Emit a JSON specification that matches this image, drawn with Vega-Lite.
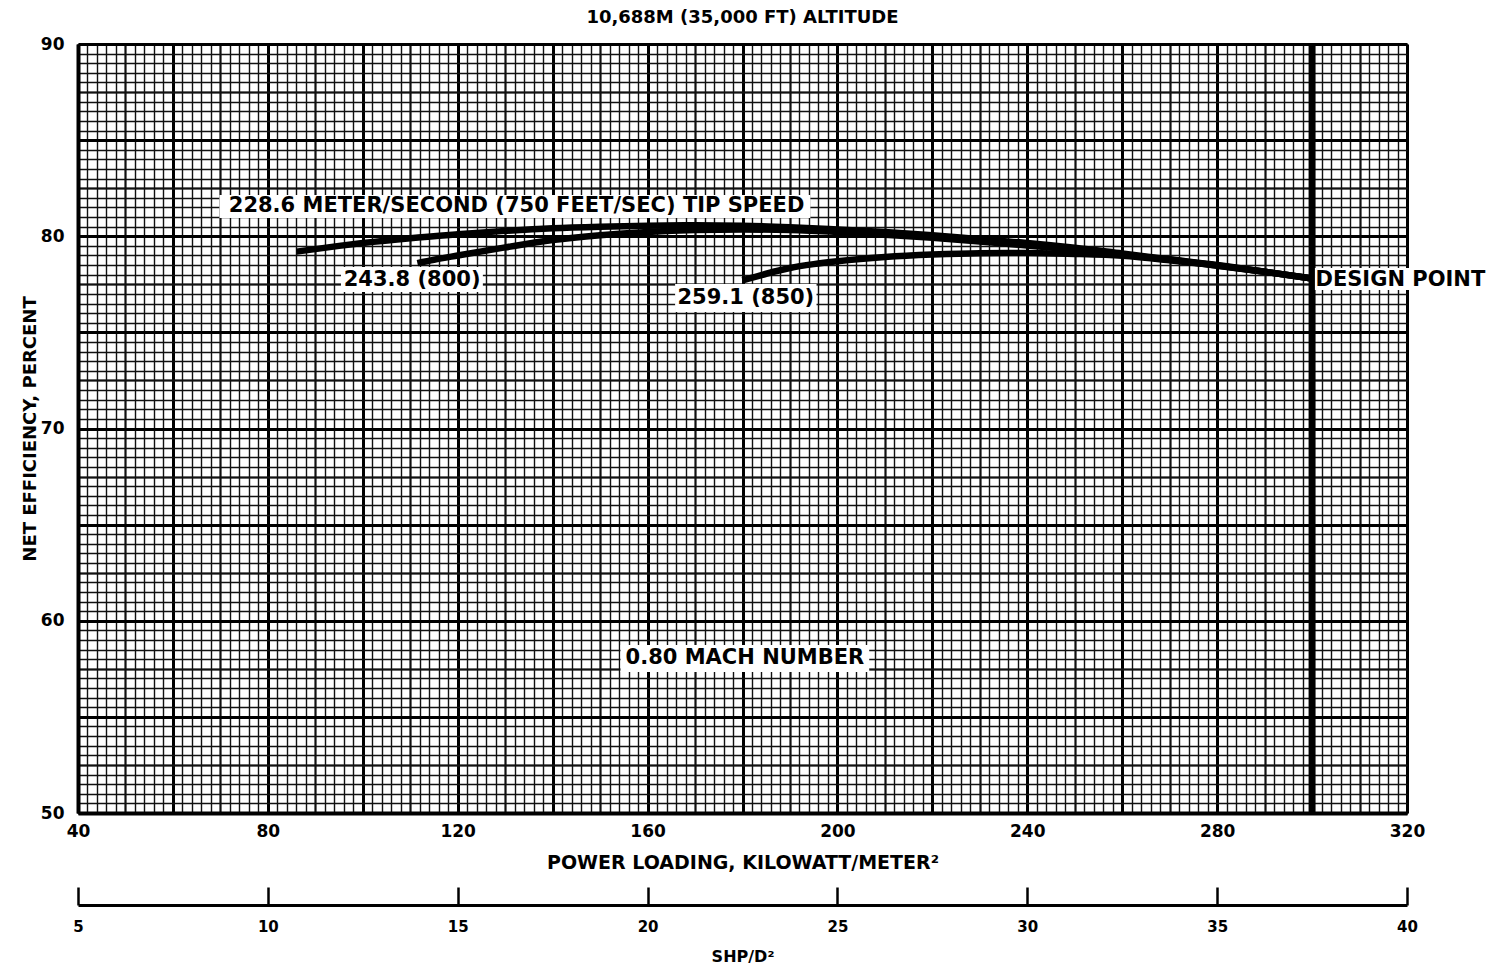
{
  "$schema": "https://vega.github.io/schema/vega-lite/v6.json",
  "width": 1329,
  "height": 769,
  "autosize": {"type": "none"},
  "padding": {"left": 78, "top": 44, "right": 92, "bottom": 158},
  "background": "white",
  "config": {
    "font": "DejaVu Sans",
    "view": {"stroke": null},
    "axis": {"labelFlush": false, "labelOverlap": false, "labelColor": "black", "titleColor": "black", "domainColor": "black", "tickColor": "black", "gridColor": "#111111", "gridOpacity": 1}
  },
  "title": {"text": "10,688M (35,000 FT) ALTITUDE", "fontSize": 18, "fontWeight": "bold", "font": "DejaVu Sans", "color": "black", "anchor": "middle", "frame": "group", "offset": 8},
  "datasets": {
    "curves": [
      {"series": "750", "kw": 86, "eff": 79.2},
      {"series": "750", "kw": 95, "eff": 79.5},
      {"series": "750", "kw": 100, "eff": 79.65},
      {"series": "750", "kw": 110, "eff": 79.9},
      {"series": "750", "kw": 120, "eff": 80.1},
      {"series": "750", "kw": 130, "eff": 80.28},
      {"series": "750", "kw": 140, "eff": 80.42},
      {"series": "750", "kw": 150, "eff": 80.5},
      {"series": "750", "kw": 160, "eff": 80.55},
      {"series": "750", "kw": 170, "eff": 80.57},
      {"series": "750", "kw": 180, "eff": 80.55},
      {"series": "750", "kw": 190, "eff": 80.47},
      {"series": "750", "kw": 200, "eff": 80.35},
      {"series": "750", "kw": 210, "eff": 80.22},
      {"series": "750", "kw": 220, "eff": 80.05},
      {"series": "750", "kw": 230, "eff": 79.85},
      {"series": "750", "kw": 240, "eff": 79.65},
      {"series": "750", "kw": 250, "eff": 79.4},
      {"series": "750", "kw": 260, "eff": 79.1},
      {"series": "750", "kw": 270, "eff": 78.8},
      {"series": "750", "kw": 280, "eff": 78.5},
      {"series": "750", "kw": 290, "eff": 78.15},
      {"series": "750", "kw": 300, "eff": 77.8},
      {"series": "800", "kw": 111.5, "eff": 78.6},
      {"series": "800", "kw": 115, "eff": 78.78},
      {"series": "800", "kw": 120, "eff": 79.0},
      {"series": "800", "kw": 130, "eff": 79.42},
      {"series": "800", "kw": 140, "eff": 79.8},
      {"series": "800", "kw": 150, "eff": 80.05},
      {"series": "800", "kw": 160, "eff": 80.22},
      {"series": "800", "kw": 170, "eff": 80.32},
      {"series": "800", "kw": 180, "eff": 80.35},
      {"series": "800", "kw": 190, "eff": 80.32},
      {"series": "800", "kw": 200, "eff": 80.22},
      {"series": "800", "kw": 210, "eff": 80.08},
      {"series": "800", "kw": 220, "eff": 79.92},
      {"series": "800", "kw": 230, "eff": 79.73},
      {"series": "800", "kw": 240, "eff": 79.52},
      {"series": "800", "kw": 250, "eff": 79.3},
      {"series": "800", "kw": 260, "eff": 79.05},
      {"series": "800", "kw": 270, "eff": 78.78},
      {"series": "800", "kw": 280, "eff": 78.48},
      {"series": "800", "kw": 290, "eff": 78.15},
      {"series": "800", "kw": 300, "eff": 77.8},
      {"series": "850", "kw": 180, "eff": 77.7},
      {"series": "850", "kw": 185, "eff": 78.05},
      {"series": "850", "kw": 190, "eff": 78.35},
      {"series": "850", "kw": 195, "eff": 78.55},
      {"series": "850", "kw": 200, "eff": 78.7},
      {"series": "850", "kw": 210, "eff": 78.92},
      {"series": "850", "kw": 220, "eff": 79.05},
      {"series": "850", "kw": 230, "eff": 79.12},
      {"series": "850", "kw": 240, "eff": 79.13},
      {"series": "850", "kw": 250, "eff": 79.08},
      {"series": "850", "kw": 260, "eff": 78.98},
      {"series": "850", "kw": 270, "eff": 78.75},
      {"series": "850", "kw": 280, "eff": 78.47},
      {"series": "850", "kw": 290, "eff": 78.15},
      {"series": "850", "kw": 300, "eff": 77.8}
    ],
    "labels": [
      {"label": "228.6 METER/SECOND (750 FEET/SEC) TIP SPEED", "x": 132.4, "y": 81.55, "x0": 69.8, "x1": 194.3, "y0": 80.95, "y1": 82.15},
      {"label": "243.8 (800)", "x": 110.4, "y": 77.72, "x0": 95.4, "x1": 125.3, "y0": 77.1, "y1": 78.4},
      {"label": "259.1 (850)", "x": 180.7, "y": 76.78, "x0": 165.8, "x1": 195.6, "y0": 76.06, "y1": 77.52},
      {"label": "DESIGN POINT", "x": 318.6, "y": 77.72, "x0": 300.6, "x1": 322, "y0": 77.2, "y1": 78.35},
      {"label": "0.80 MACH NUMBER", "x": 180.5, "y": 58.05, "x0": 154.3, "x1": 206.7, "y0": 57.33, "y1": 58.74}
    ],
    "design": [{"kw": 300}],
    "shp": [{"shp": 5}, {"shp": 40}]
  },
  "resolve": {"scale": {"x": "independent"}, "axis": {"x": "independent", "y": "independent"}},
  "layer": [
    {
      "data": {"name": "design"},
      "mark": {"type": "point", "opacity": 0},
      "encoding": {
        "x": {"field": "kw", "type": "quantitative", "scale": {"domain": [40, 320], "nice": false, "zero": false},
              "axis": {"orient": "bottom", "tickCount": 140, "grid": true, "gridWidth": 1.4, "labels": false, "ticks": false, "domain": false, "title": null}},
        "y": {"datum": 60, "type": "quantitative", "scale": {"domain": [50, 90], "nice": false, "zero": false},
              "axis": {"orient": "left", "tickCount": 80, "grid": true, "gridWidth": 1.4, "labels": false, "ticks": false, "domain": false, "title": null}}
      }
    },
    {
      "data": {"name": "design"},
      "mark": {"type": "point", "opacity": 0},
      "encoding": {
        "x": {"field": "kw", "type": "quantitative", "scale": {"domain": [40, 320], "nice": false, "zero": false},
              "axis": {"orient": "bottom", "values": [50, 70, 90, 110, 130, 150, 170, 190, 210, 230, 250, 270, 290, 310], "grid": true, "gridWidth": 2, "labels": false, "ticks": false, "domain": false, "title": null}},
        "y": {"datum": 60, "type": "quantitative", "scale": {"domain": [50, 90], "nice": false, "zero": false},
              "axis": {"orient": "left", "values": [52.5, 57.5, 62.5, 67.5, 72.5, 77.5, 82.5, 87.5], "grid": true, "gridWidth": 2, "labels": false, "ticks": false, "domain": false, "title": null}}
      }
    },
    {
      "data": {"name": "design"},
      "mark": {"type": "point", "opacity": 0},
      "encoding": {
        "x": {"field": "kw", "type": "quantitative", "scale": {"domain": [40, 320], "nice": false, "zero": false},
              "axis": {"orient": "bottom", "values": [40, 60, 80, 100, 120, 140, 160, 180, 200, 220, 240, 260, 280, 300, 320], "grid": true, "gridWidth": 3, "gridColor": "black", "labels": false, "ticks": false, "domain": false, "title": null}},
        "y": {"datum": 60, "type": "quantitative", "scale": {"domain": [50, 90], "nice": false, "zero": false},
              "axis": {"orient": "left", "values": [50, 55, 60, 65, 70, 75, 80, 85, 90], "grid": true, "gridWidth": 3, "gridColor": "black", "labels": false, "ticks": false, "domain": false, "title": null}}
      }
    },
    {
      "data": {"name": "design"},
      "mark": {"type": "point", "opacity": 0},
      "encoding": {
        "x": {"field": "kw", "type": "quantitative", "scale": {"domain": [40, 320], "nice": false, "zero": false},
              "axis": {"orient": "bottom", "values": [40, 80, 120, 160, 200, 240, 280, 320], "grid": false, "ticks": false, "domain": true, "domainWidth": 4, "labelFontSize": 17, "labelFontWeight": "bold", "labelPadding": 10,
                       "title": "POWER LOADING, KILOWATT/METER²", "titleFontSize": 19, "titleFontWeight": "bold", "titlePadding": 14}},
        "y": {"datum": 60, "type": "quantitative", "scale": {"domain": [50, 90], "nice": false, "zero": false},
              "axis": {"orient": "left", "values": [50, 60, 70, 80, 90], "grid": false, "ticks": false, "domain": true, "domainWidth": 4, "labelFontSize": 17, "labelFontWeight": "bold", "labelPadding": 14,
                       "title": "NET EFFICIENCY, PERCENT", "titleFontSize": 18, "titleFontWeight": "bold", "titlePadding": 1}}
      }
    },
    {
      "data": {"name": "design"},
      "mark": {"type": "rule", "color": "black", "strokeWidth": 7},
      "encoding": {
        "x": {"field": "kw", "type": "quantitative", "scale": {"domain": [40, 320], "nice": false, "zero": false}, "axis": null}
      }
    },
    {
      "data": {"name": "curves"},
      "mark": {"type": "line", "color": "black", "strokeWidth": 6.5, "interpolate": "monotone", "strokeCap": "butt"},
      "encoding": {
        "x": {"field": "kw", "type": "quantitative", "scale": {"domain": [40, 320], "nice": false, "zero": false}, "axis": null},
        "y": {"field": "eff", "type": "quantitative", "scale": {"domain": [50, 90], "nice": false, "zero": false}, "axis": null},
        "detail": {"field": "series"}
      }
    },
    {
      "data": {"name": "labels"},
      "mark": {"type": "rect", "color": "white"},
      "encoding": {
        "x": {"field": "x0", "type": "quantitative", "scale": {"domain": [40, 320], "nice": false, "zero": false}, "axis": null},
        "x2": {"field": "x1"},
        "y": {"field": "y0", "type": "quantitative", "scale": {"domain": [50, 90], "nice": false, "zero": false}, "axis": null},
        "y2": {"field": "y1"}
      }
    },
    {
      "data": {"name": "labels"},
      "mark": {"type": "text", "color": "black", "fontSize": 21, "fontWeight": "bold", "font": "DejaVu Sans", "align": "center", "baseline": "middle"},
      "encoding": {
        "x": {"field": "x", "type": "quantitative", "scale": {"domain": [40, 320], "nice": false, "zero": false}, "axis": null},
        "y": {"field": "y", "type": "quantitative", "scale": {"domain": [50, 90], "nice": false, "zero": false}, "axis": null},
        "text": {"field": "label"}
      }
    },
    {
      "data": {"name": "shp"},
      "mark": {"type": "point", "opacity": 0},
      "encoding": {
        "x": {"field": "shp", "type": "quantitative", "scale": {"domain": [5, 40], "nice": false, "zero": false},
              "axis": {"orient": "bottom", "offset": 92, "values": [5, 10, 15, 20, 25, 30, 35, 40], "grid": false, "domain": true, "domainWidth": 3, "ticks": true, "tickSize": -18, "tickWidth": 2.5,
                       "labelFontSize": 15, "labelFontWeight": "bold", "labelPadding": 32, "title": "SHP/D²", "titleFontSize": 16, "titleFontWeight": "bold", "titlePadding": 14}}
      }
    }
  ]
}
